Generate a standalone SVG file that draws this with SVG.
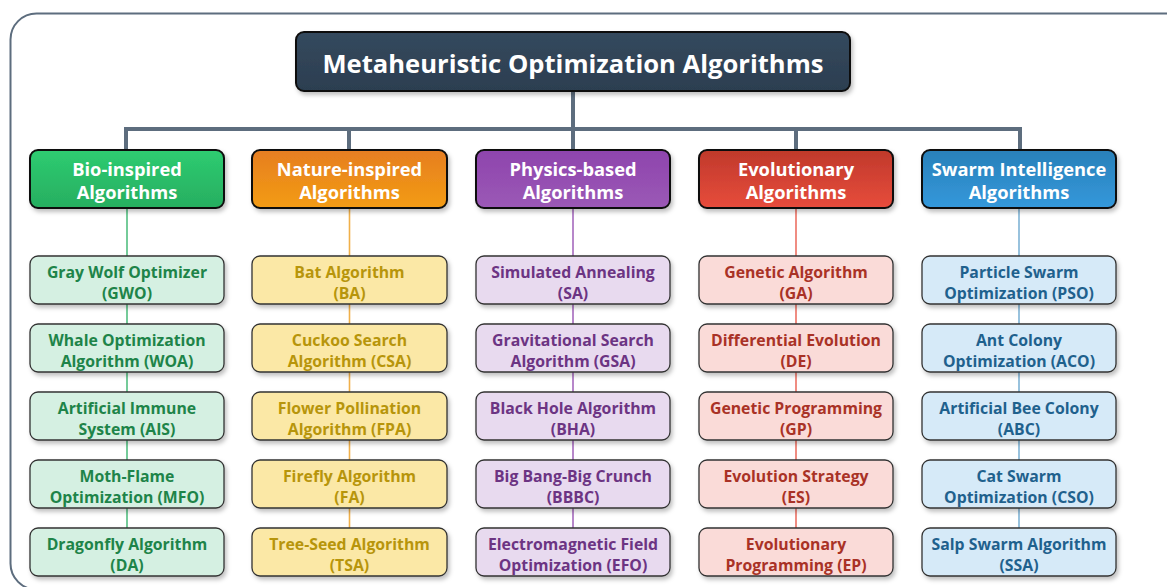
<svg xmlns="http://www.w3.org/2000/svg" width="1167" height="587" viewBox="0 0 1167 587">
  <defs>
    <linearGradient id="gTitle" x1="0" y1="0" x2="0" y2="1">
      <stop offset="0" stop-color="#34495e"/><stop offset="1" stop-color="#2c3e50"/>
    </linearGradient>
    <linearGradient id="gBio" x1="0" y1="0" x2="0" y2="1">
      <stop offset="0" stop-color="#2ecc71"/><stop offset="1" stop-color="#27ae60"/>
    </linearGradient>
    <linearGradient id="gNat" x1="0" y1="0" x2="0" y2="1">
      <stop offset="0" stop-color="#e67e22"/><stop offset="1" stop-color="#f39c12"/>
    </linearGradient>
    <linearGradient id="gPhy" x1="0" y1="0" x2="0" y2="1">
      <stop offset="0" stop-color="#8e44ad"/><stop offset="1" stop-color="#9b59b6"/>
    </linearGradient>
    <linearGradient id="gEvo" x1="0" y1="0" x2="0" y2="1">
      <stop offset="0" stop-color="#c0392b"/><stop offset="1" stop-color="#e74c3c"/>
    </linearGradient>
    <linearGradient id="gSwm" x1="0" y1="0" x2="0" y2="1">
      <stop offset="0" stop-color="#2980b9"/><stop offset="1" stop-color="#3498db"/>
    </linearGradient>
    <filter id="shadow" x="-10%" y="-20%" width="130%" height="150%">
      <feDropShadow dx="2" dy="3" stdDeviation="2" flood-color="#000" flood-opacity="0.25"/>
    </filter>
  </defs>
  <style>
    text { font-family: "Open Sans", "Noto Sans", "DejaVu Sans", sans-serif; font-weight: bold; text-anchor: middle; }
    .frame { fill: #ffffff; stroke: #5d6d7e; stroke-width: 2; }
    .title rect { stroke: #111; stroke-width: 2; filter: url(#shadow); }
    .title text { fill: #ffffff; font-size: 25.6px; }
    .cat rect { stroke: #111; stroke-width: 2; filter: url(#shadow); }
    .cat text { fill: #ffffff; font-size: 18.3px; }
    .item rect { stroke: #333; stroke-width: 1.3; filter: url(#shadow); }
    .item text { font-size: 15.8px; }
    .item text.l1 { transform: translateY(1px); }
    .trunk { stroke: #5d6d7e; stroke-width: 4; fill: none; }
    .branch { stroke-width: 1.6; fill: none; }
    .bio rect { fill: #d5f0e2; } .bio text { fill: #1e8449; }
    .nat rect { fill: #fbe8a6; } .nat text { fill: #b7950b; }
    .phy rect { fill: #e8daef; } .phy text { fill: #6c3483; }
    .evo rect { fill: #fadbd8; } .evo text { fill: #a93226; }
    .swm rect { fill: #d6eaf8; } .swm text { fill: #1f618d; }
  </style>

  <rect class="frame" x="10.5" y="13.5" width="1190" height="576" rx="26"/>

  <!-- connectors -->
  <g id="connectors">
    <path class="trunk" d="M573 91 V129 M126 150 V129 H1020 V150 M349 129 V150 M573 129 V150 M796 129 V150"/>
    <path class="branch" stroke="#52be80" d="M127 208 V528"/>
    <path class="branch" stroke="#f0b04a" d="M349.5 208 V528"/>
    <path class="branch" stroke="#a569bd" d="M573 208 V528"/>
    <path class="branch" stroke="#ec7063" d="M796 208 V528"/>
    <path class="branch" stroke="#7fb3d5" d="M1019 208 V528"/>
  </g>

  <!-- root -->
  <g id="root" class="title">
    <rect x="296" y="32" width="554" height="59" rx="8" fill="url(#gTitle)"/>
    <text x="573" y="73">Metaheuristic Optimization Algorithms</text>
  </g>

  <!-- categories -->
  <g id="cat-bio" class="cat">
    <rect x="30" y="150" width="194" height="58" rx="8" fill="url(#gBio)"/>
    <text x="127" y="176">Bio-inspired</text><text x="127" y="199">Algorithms</text>
  </g>
  <g id="cat-nature" class="cat">
    <rect x="252" y="150" width="195" height="58" rx="8" fill="url(#gNat)"/>
    <text x="349.5" y="176">Nature-inspired</text><text x="349.5" y="199">Algorithms</text>
  </g>
  <g id="cat-physics" class="cat">
    <rect x="476" y="150" width="194" height="58" rx="8" fill="url(#gPhy)"/>
    <text x="573" y="176">Physics-based</text><text x="573" y="199">Algorithms</text>
  </g>
  <g id="cat-evo" class="cat">
    <rect x="699" y="150" width="194" height="58" rx="8" fill="url(#gEvo)"/>
    <text x="796" y="176">Evolutionary</text><text x="796" y="199">Algorithms</text>
  </g>
  <g id="cat-swarm" class="cat">
    <rect x="922" y="150" width="194" height="58" rx="8" fill="url(#gSwm)"/>
    <text x="1019" y="176">Swarm Intelligence</text><text x="1019" y="199">Algorithms</text>
  </g>

  <!-- bio-inspired items -->
  <g id="gwo" class="item bio"><rect x="30" y="256" width="194" height="48" rx="8"/><text x="127" y="278">Gray Wolf Optimizer</text><text x="127" y="299">(GWO)</text></g>
  <g id="woa" class="item bio"><rect x="30" y="324" width="194" height="48" rx="8"/><text x="127" y="346">Whale Optimization</text><text x="127" y="367">Algorithm (WOA)</text></g>
  <g id="ais" class="item bio"><rect x="30" y="392" width="194" height="48" rx="8"/><text x="127" y="414">Artificial Immune</text><text x="127" y="435">System (AIS)</text></g>
  <g id="mfo" class="item bio"><rect x="30" y="460" width="194" height="48" rx="8"/><text x="127" y="482">Moth-Flame</text><text x="127" y="503">Optimization (MFO)</text></g>
  <g id="da" class="item bio"><rect x="30" y="528" width="194" height="48" rx="8"/><text x="127" y="550">Dragonfly Algorithm</text><text x="127" y="571">(DA)</text></g>

  <!-- nature-inspired items -->
  <g id="ba" class="item nat"><rect x="252" y="256" width="195" height="48" rx="8"/><text x="349.5" y="278">Bat Algorithm</text><text x="349.5" y="299">(BA)</text></g>
  <g id="csa" class="item nat"><rect x="252" y="324" width="195" height="48" rx="8"/><text x="349.5" y="346">Cuckoo Search</text><text x="349.5" y="367">Algorithm (CSA)</text></g>
  <g id="fpa" class="item nat"><rect x="252" y="392" width="195" height="48" rx="8"/><text x="349.5" y="414">Flower Pollination</text><text x="349.5" y="435">Algorithm (FPA)</text></g>
  <g id="fa" class="item nat"><rect x="252" y="460" width="195" height="48" rx="8"/><text x="349.5" y="482">Firefly Algorithm</text><text x="349.5" y="503">(FA)</text></g>
  <g id="tsa" class="item nat"><rect x="252" y="528" width="195" height="48" rx="8"/><text x="349.5" y="550">Tree-Seed Algorithm</text><text x="349.5" y="571">(TSA)</text></g>

  <!-- physics-based items -->
  <g id="sa" class="item phy"><rect x="476" y="256" width="194" height="48" rx="8"/><text x="573" y="278">Simulated Annealing</text><text x="573" y="299">(SA)</text></g>
  <g id="gsa" class="item phy"><rect x="476" y="324" width="194" height="48" rx="8"/><text x="573" y="346">Gravitational Search</text><text x="573" y="367">Algorithm (GSA)</text></g>
  <g id="bha" class="item phy"><rect x="476" y="392" width="194" height="48" rx="8"/><text x="573" y="414">Black Hole Algorithm</text><text x="573" y="435">(BHA)</text></g>
  <g id="bbbc" class="item phy"><rect x="476" y="460" width="194" height="48" rx="8"/><text x="573" y="482">Big Bang-Big Crunch</text><text x="573" y="503">(BBBC)</text></g>
  <g id="efo" class="item phy"><rect x="476" y="528" width="194" height="48" rx="8"/><text x="573" y="550">Electromagnetic Field</text><text x="573" y="571">Optimization (EFO)</text></g>

  <!-- evolutionary items -->
  <g id="ga" class="item evo"><rect x="699" y="256" width="194" height="48" rx="8"/><text x="796" y="278">Genetic Algorithm</text><text x="796" y="299">(GA)</text></g>
  <g id="de" class="item evo"><rect x="699" y="324" width="194" height="48" rx="8"/><text x="796" y="346">Differential Evolution</text><text x="796" y="367">(DE)</text></g>
  <g id="gp" class="item evo"><rect x="699" y="392" width="194" height="48" rx="8"/><text x="796" y="414">Genetic Programming</text><text x="796" y="435">(GP)</text></g>
  <g id="es" class="item evo"><rect x="699" y="460" width="194" height="48" rx="8"/><text x="796" y="482">Evolution Strategy</text><text x="796" y="503">(ES)</text></g>
  <g id="ep" class="item evo"><rect x="699" y="528" width="194" height="48" rx="8"/><text x="796" y="550">Evolutionary</text><text x="796" y="571">Programming (EP)</text></g>

  <!-- swarm intelligence items -->
  <g id="pso" class="item swm"><rect x="922" y="256" width="194" height="48" rx="8"/><text x="1019" y="278">Particle Swarm</text><text x="1019" y="299">Optimization (PSO)</text></g>
  <g id="aco" class="item swm"><rect x="922" y="324" width="194" height="48" rx="8"/><text x="1019" y="346">Ant Colony</text><text x="1019" y="367">Optimization (ACO)</text></g>
  <g id="abc" class="item swm"><rect x="922" y="392" width="194" height="48" rx="8"/><text x="1019" y="414">Artificial Bee Colony</text><text x="1019" y="435">(ABC)</text></g>
  <g id="cso" class="item swm"><rect x="922" y="460" width="194" height="48" rx="8"/><text x="1019" y="482">Cat Swarm</text><text x="1019" y="503">Optimization (CSO)</text></g>
  <g id="ssa" class="item swm"><rect x="922" y="528" width="194" height="48" rx="8"/><text x="1019" y="550">Salp Swarm Algorithm</text><text x="1019" y="571">(SSA)</text></g>
</svg>
